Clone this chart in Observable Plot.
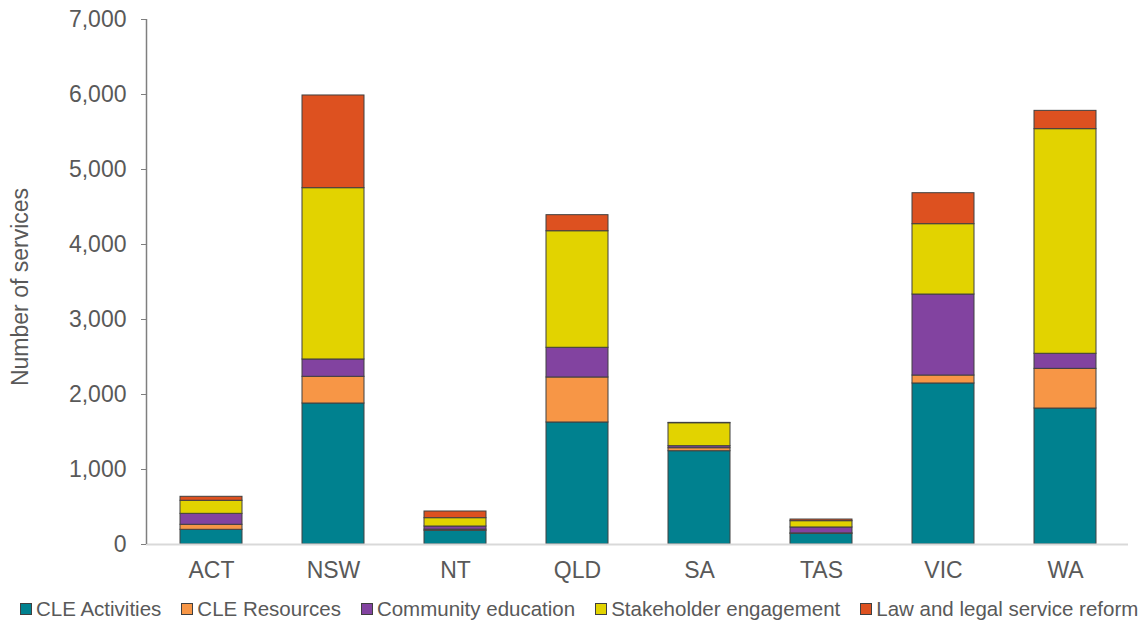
<!DOCTYPE html>
<html>
<head>
<meta charset="utf-8">
<script src="https://cdn.jsdelivr.net/npm/d3@7"></script>
<script src="https://cdn.jsdelivr.net/npm/@observablehq/plot@0.6"></script>
<style>
  body { margin: 0; background: #fff; font-family: "Liberation Sans", Arial, sans-serif; }
  #legend { display: flex; align-items: center; height: 31px; padding-left: 20px; padding-top: 2px; box-sizing: border-box;
            font-size: 20.5px; color: #595959; white-space: nowrap; }
  .item { display: flex; align-items: center; margin-right: 20px; }
  .sw { width: 10px; height: 10px; border: 1px solid #404040; margin-right: 4px; }
</style>
</head>
<body>
<div id="chart"></div>
<div id="legend"></div>
<script>
// Jurisdictions along the x axis
const states = ["ACT", "NSW", "NT", "QLD", "SA", "TAS", "VIC", "WA"];

// Service types, stacked bottom to top
const serviceTypes = ["CLE Activities", "CLE Resources", "Community education", "Stakeholder engagement", "Law and legal service reform"];
const serviceColors = ["#00818F", "#F79646", "#8243A0", "#E2D300", "#DD5120"];

// Number of services per jurisdiction, one array per service type
const cleActivities      = [196, 1880, 183, 1627, 1244, 143, 2147, 1813];
const cleResources       = [67, 356, 15, 600, 40, 5, 106, 529];
const communityEducation = [146, 231, 42, 396, 27, 79, 1080, 201];
const stakeholderEngage  = [174, 2284, 111, 1554, 306, 84, 938, 2995];
const lawReform          = [53, 1236, 89, 214, 5, 22, 413, 244];

const yTicks = [0, 1000, 2000, 3000, 4000, 5000, 6000, 7000];

const seriesValues = [cleActivities, cleResources, communityEducation, stakeholderEngage, lawReform];
const rows = serviceTypes.flatMap((type, i) =>
  states.map((state, j) => ({state, type, value: seriesValues[i][j]}))
);

const textColor = "#595959";

// Vertical axis line along the left edge of the plot frame
const yAxisLine = (index, scales, values, dims) => {
  const line = document.createElementNS("http://www.w3.org/2000/svg", "line");
  line.setAttribute("x1", dims.marginLeft + 0.5);
  line.setAttribute("x2", dims.marginLeft + 0.5);
  line.setAttribute("y1", dims.marginTop);
  line.setAttribute("y2", dims.height - dims.marginBottom);
  line.setAttribute("stroke", "#7f7f7f");
  line.setAttribute("stroke-width", 1.5);
  return line;
};

const chart = Plot.plot({
  width: 1148,
  height: 592,
  marginLeft: 146,
  marginRight: 20,
  marginTop: 19,
  marginBottom: 48,
  style: {fontFamily: "'Liberation Sans', Arial, sans-serif", color: textColor, background: "#fff"},
  x: {domain: states, paddingInner: 0.49, paddingOuter: 0.245, insetLeft: 2, label: null},
  y: {domain: [0, 7000], label: null},
  color: {domain: serviceTypes, range: serviceColors},
  marks: [
    Plot.barY(rows, Plot.stackY({
      x: "state", y: "value", fill: "type", order: serviceTypes,
      stroke: "#404040", strokeWidth: 1
    })),
    Plot.ruleY([0], {stroke: "#d9d9d9", strokeWidth: 2}),
    yAxisLine,
    Plot.axisY({
      ticks: yTicks, tickFormat: d3.format(","), tickSize: 5, tickPadding: 15,
      fontSize: 23, stroke: "#7f7f7f", fill: textColor, label: null
    }),
    Plot.axisX({tickSize: 0, tickPadding: 17, fontSize: 23, fill: textColor, label: null}),
    Plot.text(["Number of services"], {
      frameAnchor: "left", rotate: -90, dx: -126, dy: 5,
      fontSize: 23, fill: textColor, textAnchor: "middle", lineAnchor: "middle"
    })
  ]
});
document.getElementById("chart").appendChild(chart);

// Legend row beneath the chart
const legend = d3.select("#legend");
serviceTypes.forEach((type, i) => {
  const item = legend.append("div").attr("class", "item");
  item.append("div").attr("class", "sw").style("background", serviceColors[i]);
  item.append("span").text(type);
});
</script>
</body>
</html>
